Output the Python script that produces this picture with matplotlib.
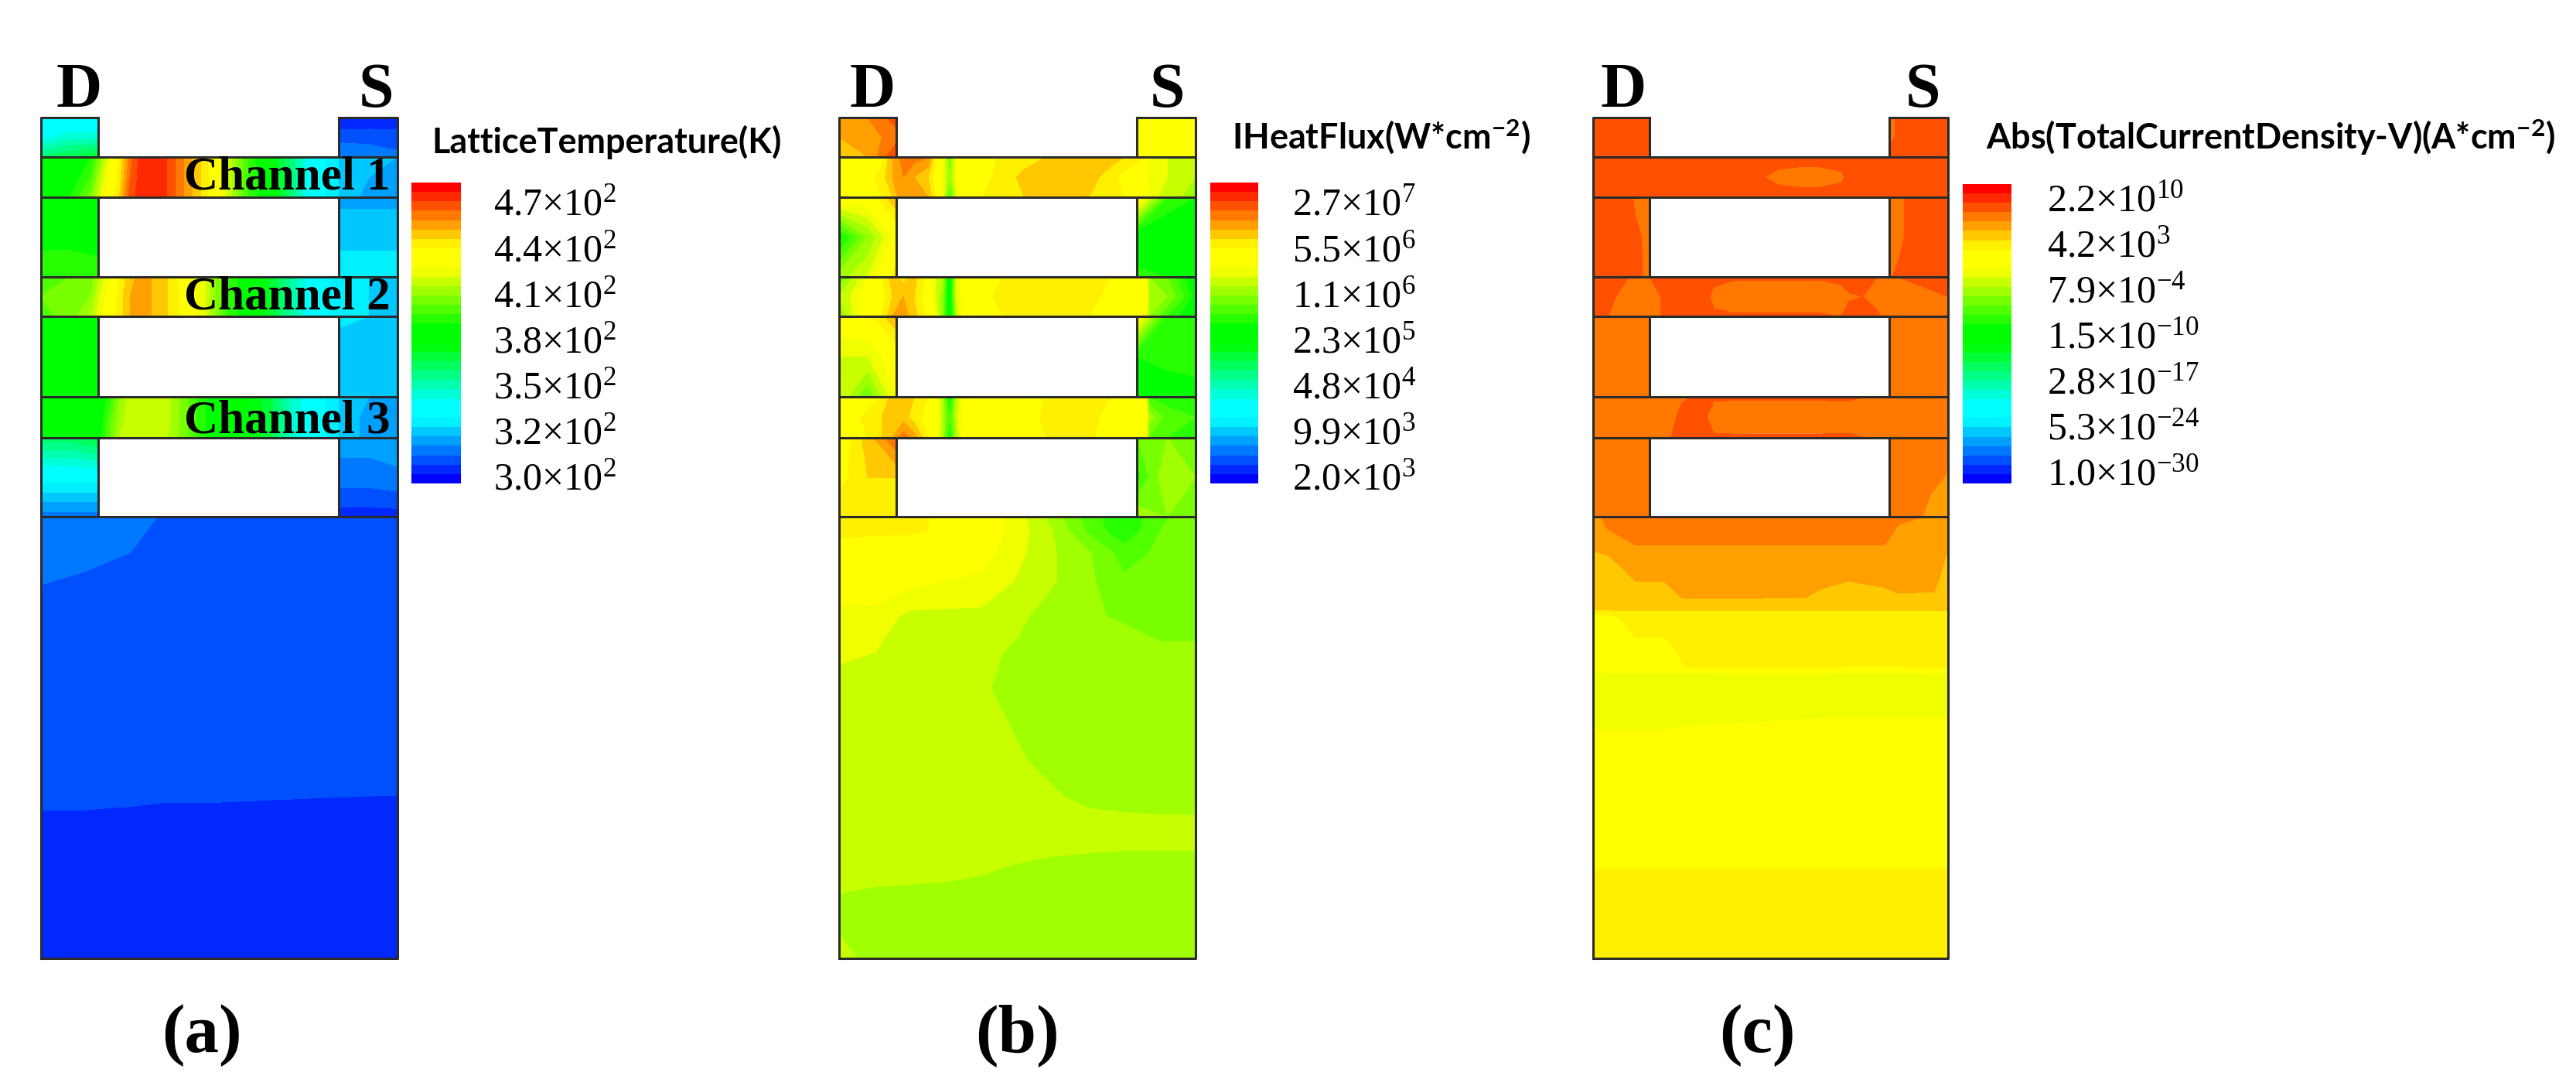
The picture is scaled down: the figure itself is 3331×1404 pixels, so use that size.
import numpy as np
import matplotlib
matplotlib.use('Agg')
import matplotlib.pyplot as plt
from matplotlib.colors import ListedColormap, BoundaryNorm
from matplotlib.cm import ScalarMappable

plt.rcParams['mathtext.fontset'] = 'custom'
plt.rcParams['mathtext.rm'] = 'Liberation Serif'
plt.rcParams['mathtext.default'] = 'regular'

W, H = 3331, 1404

# all fields are given as colour band numbers (0 = blue, 31 = red)
y_contact = [0, 5.5, 11]
y_ch1 = [11, 16.7, 22.4]
y_gap1 = [22.4, 33.5, 44.7]
y_ch2 = [44.7, 50.2, 55.8]
y_gap2 = [55.8, 67, 78.4]
y_ch3 = [78.4, 84, 89.7]
y_gap3 = [89.7, 101, 112]
y_bottom = 235.8
col_left = 16
col_right = 83.5

# (a) lattice temperature
a_left_x = [0, 8, 16]
a_right_x = [83.5, 92, 100]
a_contact_d = [[7.5, 7.5, 7.5], [8.5, 9.5, 9.5], [12, 13, 14]]
a_contact_s = [[1, 1, 1], [2.6, 2.7, 2.6], [4, 3.5, 3.2]]
a_left_gaps = [[[16.5, 16.5, 17], [16.5, 16.5, 16.5], [18, 18, 17.5]],
               [[17, 16.5, 16.5], [15.5, 15.5, 15.5], [15.5, 15.5, 15.5]],
               [[12.5, 12.5, 13.5], [7.5, 7.5, 7.5], [3.5, 3.5, 3.5]]]
a_right_gaps = [[[4.8, 4.8, 4.8], [5.5, 5.5, 5.5], [7, 7, 7]],
                [[6.2, 6, 5.5], [5.5, 5.5, 5.5], [5.5, 5.5, 5.5]],
                [[4.5, 4.5, 4.5], [3.5, 3.5, 3.8], [1.5, 1.5, 1.5]]]
a_x = [0, 8, 14, 17, 20, 22, 25, 28, 34, 40, 46, 52, 58, 64, 70, 76, 83.5, 92, 100]
a_ch1 = [[16, 16, 17, 20, 23.5, 25, 28.5, 30.5, 30.5, 28, 25.5, 22, 18, 15, 12, 8, 6, 5.5, 5],
         [16.5, 16, 18, 21.5, 24, 25.5, 29, 30.5, 30.5, 28, 25.5, 22, 18, 15.5, 12, 8, 6, 5, 4.5],
         [16.5, 17, 19.5, 22.5, 24.5, 26, 29.5, 30.5, 30.5, 28, 25.5, 22, 18, 16, 12, 8, 6, 4.5, 4]]
a_ch2 = [[18, 19, 19.5, 21.5, 23.5, 25, 26.5, 27.5, 26.5, 24.5, 22, 18, 16, 14, 11, 8, 6.5, 6, 5.5],
         [19, 19.5, 20, 22.5, 24, 25.5, 27, 27.5, 26.5, 24.5, 22, 18, 16, 14, 11, 8, 6.5, 6, 5.5],
         [18.5, 19.5, 21, 23, 24.5, 25.5, 27, 27.5, 26.5, 24.5, 22, 18, 16, 14, 11, 8, 6.5, 6, 5.5]]
a_ch3 = [[16, 16, 15.5, 16, 18, 20, 21.5, 22, 22, 19.5, 17, 16, 15, 13.5, 10, 8, 6, 5, 5],
         [16.5, 17, 15.5, 16.5, 19, 20.5, 21.5, 22, 22, 19.5, 17, 16, 15, 13.5, 10, 8, 6, 4.5, 4],
         [14, 16, 15.5, 17, 19.5, 21, 21.5, 22, 21.5, 19.5, 17, 16, 15, 13.5, 10, 8, 6, 4.5, 4]]
a_sub_x = [0, 12, 25, 35, 50, 75, 100]
a_sub_y = [112, 122, 131, 150, 180, 192, 205, 235.8]
a_sub = [[3.8, 3.6, 3.3, 2.9, 2.6, 2.5, 2.5],
         [3.5, 3.3, 3.0, 2.7, 2.5, 2.5, 2.5],
         [3.0, 2.8, 2.7, 2.6, 2.5, 2.5, 2.5],
         [2.6, 2.5, 2.5, 2.5, 2.5, 2.5, 2.5],
         [2.5, 2.5, 2.5, 2.5, 2.5, 2.5, 2.5],
         [2.1, 2.1, 2.05, 2.0, 2.0, 1.95, 1.9],
         [1.5, 1.5, 1.5, 1.5, 1.5, 1.5, 1.5],
         [1.5, 1.5, 1.5, 1.5, 1.5, 1.5, 1.5]]

# (b) heat flux
b_left_x = [0, 8, 16]
b_right_x = [83.5, 92, 100]
b_contact_d = [[27, 28, 29.5], [27, 27.5, 28.5], [26, 27, 30]]
b_contact_s = [[22.5, 24, 24], [24, 24, 24], [24, 24, 24.5]]
b_left_gaps = [[[24, 24, 27], [16.5, 20, 23.5], [20.5, 22, 25.5]],
               [[24, 24.5, 27], [22, 22, 24], [22, 19, 23]],
               [[24, 26.5, 29], [24.5, 26, 26], [26, 25, 25.5]]]
b_right_gaps = [[[25, 18, 17], [15.5, 15.5, 15.5], [17.5, 17, 17]],
                [[24, 17.5, 17.5], [17, 17.5, 17.5], [16, 16, 16.5]],
                [[19, 20, 20], [17.5, 21, 20], [21, 20, 20]]]
b_x = [0, 6, 12, 15, 18, 21, 25, 27, 29, 31, 33, 35, 40, 46, 52, 58, 64, 70, 76, 80, 86, 87, 92, 100]
b_ch1 = [[24, 24, 24.5, 27, 28.5, 28.5, 28, 25.5, 23, 19, 23, 24, 24.5, 25.2, 25.5, 26, 26.5, 26.5, 26.5, 26, 25, 22.5, 22, 22],
         [24, 24, 25.5, 27, 28, 27, 26, 24.5, 23, 20, 23, 24, 24.5, 25.5, 26.3, 26.5, 26.5, 26.5, 25.5, 24.5, 24.5, 22.5, 22, 21],
         [24, 24, 25, 26, 28, 28, 27, 25, 23, 18, 22, 24, 25, 25.5, 26, 26.5, 26.5, 26, 25.5, 25, 25, 22.5, 21.5, 20.5]]
b_ch2 = [[19, 22, 25, 26.5, 25.5, 26.5, 24.5, 22, 21, 15, 22, 24, 24.5, 25, 25.2, 25.2, 25.2, 25.2, 25, 24.5, 24, 20, 19, 16],
         [21, 23, 24.5, 26, 27, 26, 24, 22, 20, 15.5, 22, 23.5, 24.5, 25.5, 25.5, 25.5, 25.5, 25.6, 24.5, 24.5, 24.2, 21, 20, 16.5],
         [20, 23, 25, 27, 27.5, 26.5, 24.5, 23, 20, 15, 21, 24, 24.5, 25, 25.2, 25.2, 25.2, 25, 24.5, 24.5, 24, 20, 18, 15.5]]
b_ch3 = [[24, 24.5, 25, 26.5, 27, 26, 25, 24, 21, 16, 21, 23.5, 24, 24.5, 24.5, 25, 25.2, 25.2, 25, 24, 23.5, 18, 17.5, 17],
         [24, 25, 26, 26.2, 26.5, 25.5, 24.5, 23.5, 21, 18, 21.5, 23.5, 24, 24.5, 24.5, 25.2, 25.5, 25.5, 24.5, 24, 23.5, 20.5, 18.5, 18],
         [24, 24.5, 26, 27, 28.5, 27.5, 25, 24, 21, 16.5, 21, 24, 24.5, 24.5, 24.5, 25, 25.2, 25.2, 24.5, 24, 23.5, 19, 18, 18]]
b_sub_x = [0, 10, 20, 30, 40, 50, 60, 70, 80, 90, 100]
b_sub_y = [112, 116, 122, 130, 140, 150, 160, 170, 180, 190, 200, 210, 225, 235.8]
b_sub = [[25.5, 25.5, 25.2, 24.8, 23.7, 22.5, 20.5, 18.5, 17, 18.8, 19.5],
         [25.2, 25.2, 25.2, 24.8, 23.8, 22.5, 21, 18.8, 17.2, 19, 19.6],
         [24.5, 24.2, 24, 23.8, 23.4, 22.3, 21.1, 20.1, 18.5, 19.2, 19.5],
         [23.8, 23.8, 23.3, 23, 22.8, 21.9, 21.1, 20.2, 19.2, 19.4, 19.6],
         [22.5, 22.6, 21.7, 21.7, 21.7, 21.3, 20.4, 20.1, 19.9, 19.3, 19.3],
         [22.2, 22, 21.5, 21.4, 21.3, 20.8, 20.4, 20.4, 20.4, 20.3, 20.3],
         [21.6, 21.6, 21.5, 21.4, 21.1, 20.7, 20.4, 20.4, 20.4, 20.4, 20.4],
         [21.5, 21.5, 21.5, 21.5, 21.3, 20.9, 20.5, 20.4, 20.4, 20.4, 20.4],
         [21.5, 21.5, 21.5, 21.5, 21.5, 21.1, 20.7, 20.4, 20.4, 20.4, 20.4],
         [21.5, 21.5, 21.5, 21.5, 21.5, 21.5, 21.1, 20.7, 20.5, 20.4, 20.4],
         [21.5, 21.5, 21.5, 21.5, 21.5, 21.5, 21.5, 21.5, 21.5, 21.5, 21.5],
         [21.3, 21.3, 21.25, 21.2, 21.1, 20.95, 20.8, 20.7, 20.6, 20.6, 20.6],
         [20.7, 20.5, 20.5, 20.5, 20.5, 20.5, 20.5, 20.5, 20.5, 20.5, 20.5],
         [21.5, 20.5, 20.5, 20.5, 20.5, 20.5, 20.5, 20.5, 20.5, 20.5, 20.5]]

# (c) current density
c_left_x = [0, 9, 12, 16]
c_right_x = [83.5, 86, 90, 95, 100]
c_contact_d = [[29.5, 29.5, 29.5, 29.5], [29.5, 29.5, 29.5, 29.5], [29.5, 29.5, 29.5, 29.5]]
c_contact_s = [[28.7, 29.2, 29.5, 29.5, 29.5], [28.7, 29.2, 29.5, 29.5, 29.5], [29.5, 29.5, 29.5, 29.5, 29.5]]
c_left_gaps = [[[29.5, 29.5, 28.8, 28.5], [29.5, 29.5, 29.2, 28.7], [29.5, 29.5, 29.3, 28.7]],
               [[28.5, 28.5, 28.5, 28.5], [28.5, 28.5, 28.5, 28.5], [28.5, 28.5, 28.5, 28.5]],
               [[28.5, 28.5, 28.5, 28.5], [28.5, 28.5, 28.5, 28.5], [28.5, 28.5, 28.5, 28.5]]]
c_right_gaps = [[[28.6, 28.6, 29.5, 29.5, 29.5], [28.7, 28.7, 29.4, 29.5, 29.5], [28.9, 29.2, 29.5, 29.5, 29.5]],
                [[28.5, 28.5, 28.5, 28.5, 28.5], [28.5, 28.5, 28.5, 28.5, 28.5], [28.5, 28.5, 28.5, 28.5, 28.5]],
                [[28.5, 28.5, 28.5, 28.5, 28.5], [28.5, 28.5, 28.5, 28.3, 27.9], [28.5, 28.5, 28.5, 27.6, 27.5]]]
c_x = [0, 5, 10, 16, 22, 25, 31, 34, 40, 46, 52, 58, 64, 70, 72, 76, 80, 83.5, 90, 100]
c_ch1 = [[29.5, 29.5, 29.5, 29.5, 29.5, 29.5, 29.5, 29.5, 29.5, 29.5, 29.5, 29.5, 29.5, 29.5, 29.5, 29.5, 29.5, 29.5, 29.5, 29.5],
         [29.5, 29.5, 29.5, 29.5, 29.5, 29.5, 29.5, 29.5, 29.5, 29.2, 28.7, 28.5, 28.5, 28.8, 29.3, 29.5, 29.5, 29.5, 29.5, 29.5],
         [29.5, 29.5, 29.5, 29.5, 29.5, 29.5, 29.5, 29.5, 29.5, 29.5, 29.5, 29.5, 29.5, 29.5, 29.5, 29.5, 29.5, 29.3, 29.5, 29.5]]
c_ch2 = [[29.5, 29.5, 29.0, 29.0, 29.5, 29.5, 29.5, 29.3, 29.1, 29.1, 29.1, 29.1, 29.1, 29.2, 29.4, 29.3, 29.0, 28.9, 29.2, 29.5],
         [29.5, 29.2, 28.5, 28.5, 29.5, 29.5, 29.5, 28.7, 28.5, 28.5, 28.5, 28.5, 28.5, 28.7, 28.9, 29.0, 28.6, 28.5, 28.5, 29.0],
         [29.5, 28.9, 28.5, 28.5, 29.5, 29.5, 29.5, 29.2, 29.1, 29.1, 29.1, 29.1, 29.1, 29.0, 29.3, 29.5, 29.2, 28.5, 28.5, 28.5]]
c_ch3 = [[28.5, 28.5, 28.5, 28.5, 28.6, 28.8, 29.4, 29.1, 29.1, 29.1, 29.1, 29.1, 29.1, 29.1, 29.1, 29.0, 28.5, 28.5, 28.5, 28.5],
         [28.5, 28.5, 28.5, 28.5, 28.6, 29.4, 29.2, 28.6, 28.5, 28.5, 28.5, 28.5, 28.5, 28.6, 28.6, 28.6, 28.5, 28.5, 28.5, 28.5],
         [28.5, 28.5, 28.5, 28.5, 29.0, 29.2, 29.2, 29.1, 29.1, 29.1, 29.1, 29.1, 29.1, 29.1, 29.1, 29.0, 28.5, 28.5, 28.5, 28.5]]
c_sub_x = [0, 4, 12, 20, 26, 40, 60, 64, 72, 82, 86, 96, 100]
c_sub_y = [112, 119.5, 123, 130, 134.5, 138, 140, 147, 154, 156, 168, 172, 208, 212, 235.8]
c_sub = [[27.5, 28.4, 28.5, 28.5, 28.5, 28.5, 28.5, 28.5, 28.5, 28.5, 28.2, 27.9, 27.6],
         [27.3, 27.5, 28.05, 28.05, 28.05, 28.05, 28.05, 28.05, 28.05, 28.05, 27.5, 27.5, 27.5],
         [26.8, 26.95, 27.5, 27.5, 27.5, 27.5, 27.5, 27.5, 27.5, 27.5, 27.5, 27.5, 26.9],
         [26.5, 26.6, 27, 27, 27.4, 27.4, 27.4, 27.2, 27, 27.2, 27.3, 27.2, 26.6],
         [26.4, 26.4, 26.5, 26.6, 27.1, 27.1, 27, 26.8, 26.6, 26.7, 26.9, 26.9, 26.4],
         [26, 26.1, 26.1, 26.1, 26.1, 26.1, 26.1, 26.1, 26.1, 26.1, 26.1, 26.1, 26.1],
         [24.5, 24.7, 25.5, 25.6, 25.6, 25.6, 25.6, 25.6, 25.6, 25.6, 25.6, 25.6, 25.6],
         [24.3, 24.4, 24.9, 24.9, 25.3, 25.5, 25.5, 25.5, 25.5, 25.5, 25.5, 25.5, 25.5],
         [24.2, 24.3, 24.5, 24.7, 25, 25.2, 25.2, 25.2, 25, 25, 25, 25.2, 25.2],
         [22.7, 22.7, 22.7, 22.7, 22.7, 22.7, 22.7, 22.7, 22.7, 22.7, 22.7, 22.7, 22.7],
         [22.7, 22.7, 22.7, 22.7, 22.75, 22.8, 22.9, 22.9, 22.95, 22.95, 22.95, 22.95, 22.95],
         [23, 23, 23, 23, 23.1, 23.2, 23.4, 23.4, 23.5, 23.5, 23.5, 23.5, 23.5],
         [24.6, 24.6, 24.6, 24.6, 24.6, 24.6, 24.6, 24.6, 24.6, 24.6, 24.6, 24.6, 24.6],
         [25.2, 25.2, 25.2, 25.2, 25.2, 25.2, 25.2, 25.2, 25.2, 25.2, 25.2, 25.2, 25.2],
         [25.5, 25.5, 25.5, 25.5, 25.5, 25.5, 25.5, 25.5, 25.5, 25.5, 25.5, 25.5, 25.5]]

titles = ['LatticeTemperature(K)', 'IHeatFlux(W*cm$^{-2}$)', 'Abs(TotalCurrentDensity-V)(A*cm$^{-2}$)']
a_ticks = ['4.7×10$^{2}$', '4.4×10$^{2}$', '4.1×10$^{2}$', '3.8×10$^{2}$', '3.5×10$^{2}$', '3.2×10$^{2}$', '3.0×10$^{2}$']
b_ticks = ['2.7×10$^{7}$', '5.5×10$^{6}$', '1.1×10$^{6}$', '2.3×10$^{5}$', '4.8×10$^{4}$', '9.9×10$^{3}$', '2.0×10$^{3}$']
c_ticks = ['2.2×10$^{10}$', '4.2×10$^{3}$', '7.9×10$^{-4}$', '1.5×10$^{-10}$', '2.8×10$^{-17}$', '5.3×10$^{-24}$', '1.0×10$^{-30}$']
panel_labels = ['(a)', '(b)', '(c)']
channel_labels = ['Channel 1', 'Channel 2', 'Channel 3']

# 32 band colour bar, pure cyan, green and yellow take two bands each
steps_up = [0, 40, 80, 120, 160, 200, 240]
steps_down = [215, 175, 135, 95, 55, 15]
band_colors = [(0, g, 255) for g in steps_up] + [(0, 255, 255)] * 2
band_colors += [(0, 255, b) for b in steps_down] + [(0, 255, 0)] * 2
band_colors += [(255 - b, 255, 0) for b in steps_down] + [(255, 255, 0)] * 2
band_colors += [(255, 255 - r, 0) for r in [15, 55, 95, 135, 175, 215]] + [(255, 0, 0)]
cmap = ListedColormap(np.array(band_colors) / 255)
levels = np.arange(33)
norm = BoundaryNorm(levels, 32)


def fig_rect(left, top, right, bottom):
    return [left / W, 1 - bottom / H, (right - left) / W, (bottom - top) / H]


def draw_device(ax, left_x, right_x, contact_d, contact_s, left_gaps, right_gaps, ch_x, channels, sub_x, sub_y, sub):
    def fill(x, y, z):
        ax.contourf(x, y, np.array(z), levels=levels, cmap=cmap, norm=norm)

    fill(left_x, y_contact, contact_d)
    fill(right_x, y_contact, contact_s)
    for y, z in zip([y_ch1, y_ch2, y_ch3], channels):
        fill(ch_x, y, z)
    for y, zl, zr in zip([y_gap1, y_gap2, y_gap3], left_gaps, right_gaps):
        fill(left_x, y, zl)
        fill(right_x, y, zr)
    fill(sub_x, sub_y, sub)

    # outlines
    lc = '#2b2b2b'
    lw = 2.2
    for y in [y_ch1[0], y_ch1[-1], y_ch2[0], y_ch2[-1], y_ch3[0], y_ch3[-1], y_gap3[-1]]:
        ax.plot([0, 100], [y, y], color=lc, lw=lw, solid_capstyle='butt')
    for x in [col_left, col_right]:
        for y in [y_contact, y_gap1, y_gap2, y_gap3]:
            ax.plot([x, x], [y[0], y[-1]], color=lc, lw=lw, solid_capstyle='butt')
    ax.plot([0, 0, col_left], [y_bottom, 0, 0], color=lc, lw=lw, clip_on=False)
    ax.plot([col_right, 100, 100, 0], [0, 0, y_bottom, y_bottom], color=lc, lw=lw, clip_on=False)

    ax.set_xlim(0, 100)
    ax.set_ylim(y_bottom, 0)
    ax.axis('off')


fig = plt.figure(figsize=(W / 100, H / 100), dpi=100, facecolor='white')

panels = [
    (53, 514, a_left_x, a_right_x, a_contact_d, a_contact_s, a_left_gaps, a_right_gaps, a_x,
     [a_ch1, a_ch2, a_ch3], a_sub_x, a_sub_y, a_sub),
    (1085, 1546, b_left_x, b_right_x, b_contact_d, b_contact_s, b_left_gaps, b_right_gaps, b_x,
     [b_ch1, b_ch2, b_ch3], b_sub_x, b_sub_y, b_sub),
    (2060, 2519, c_left_x, c_right_x, c_contact_d, c_contact_s, c_left_gaps, c_right_gaps, c_x,
     [c_ch1, c_ch2, c_ch3], c_sub_x, c_sub_y, c_sub),
]
d_pos = [102, 1128, 2099]
s_pos = [486, 1509, 2486]
label_pos = [261, 1315, 2272]
title_pos = [(558, 184), (1593, 177), (2568, 177)]
bar_pos = [(532, 596, 236), (1565, 1627, 236), (2538, 2601, 238)]
tick_sets = [a_ticks, b_ticks, c_ticks]
tick_levels = [np.linspace(30.0, 0.8, 7), np.linspace(30.0, 0.8, 7), np.linspace(30.6, 1.3, 7)]
tick_pad = [30, 32, 33]

for i, p in enumerate(panels):
    left, right = p[0], p[1]
    ax = fig.add_axes(fig_rect(left, 152, right, 1239))
    draw_device(ax, *p[2:])
    if i == 0:
        for name, y in zip(channel_labels, [20, 53.6, 88.4]):
            ax.text(98.0, y, name, ha='right', va='baseline', family='Liberation Serif',
                    weight='bold', fontsize=44, color='black')

    fig.text(d_pos[i] / W, 1 - 138 / H, 'D', ha='center', va='baseline',
             family='Liberation Serif', weight='bold', fontsize=59)
    fig.text(s_pos[i] / W, 1 - 138 / H, 'S', ha='center', va='baseline',
             family='Liberation Serif', weight='bold', fontsize=59)
    fig.text(label_pos[i] / W, 1 - 1360 / H, panel_labels[i], ha='center', va='baseline',
             family='Liberation Serif', weight='bold', fontsize=64)
    fig.text(title_pos[i][0] / W, 1 - title_pos[i][1] / H, titles[i], ha='left', va='center',
             family='Lato', weight='bold', fontsize=32.4)

    bx0, bx1, by0 = bar_pos[i]
    cax = fig.add_axes(fig_rect(bx0, by0, bx1, 625))
    # each bar gets its own norm, a shared one resets the earlier bars' labels
    cb = fig.colorbar(ScalarMappable(norm=BoundaryNorm(levels, 32), cmap=cmap), cax=cax,
                      spacing='proportional', ticks=tick_levels[i])
    cb.outline.set_visible(False)
    cb.set_ticklabels(tick_sets[i])
    cax.minorticks_off()
    cax.tick_params(length=0, pad=tick_pad[i], labelsize=36, labelfontfamily='Liberation Serif')

fig.savefig('out.png', dpi=100, facecolor='white')
